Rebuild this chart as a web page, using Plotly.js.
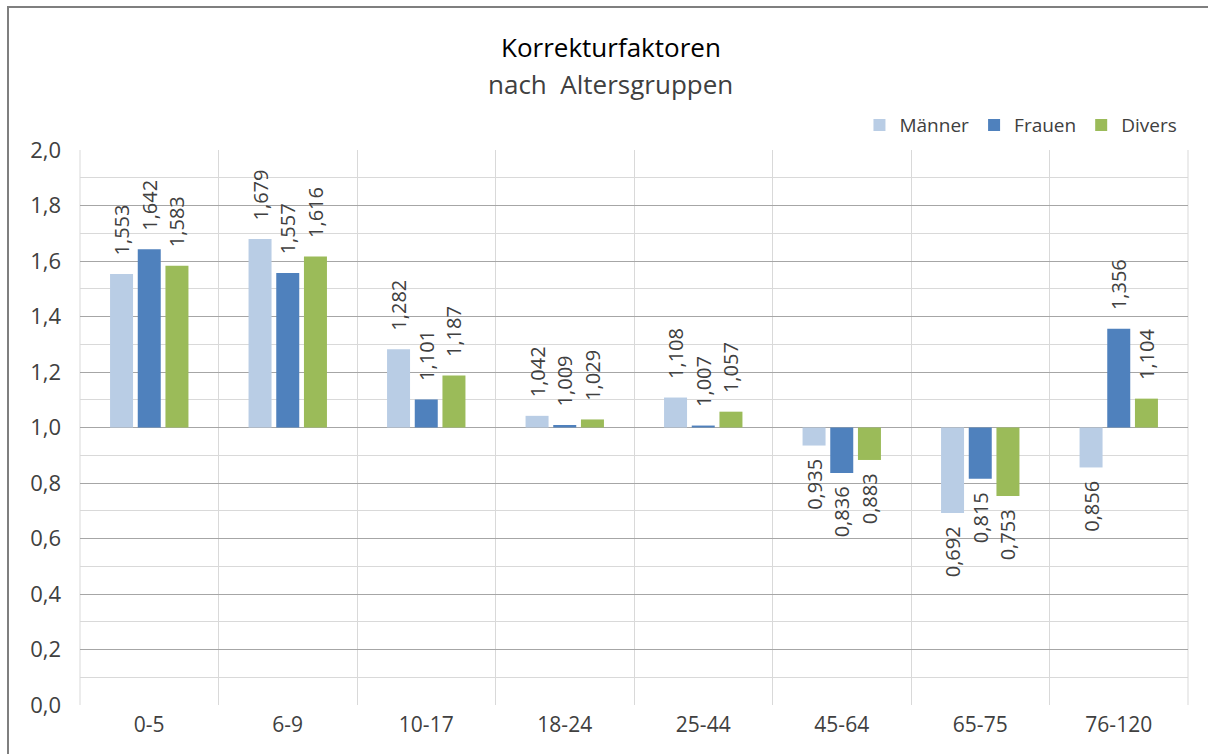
<!DOCTYPE html>
<html>
<head>
<meta charset="utf-8">
<script src="https://cdn.plot.ly/plotly-3.0.1.min.js"></script>
<style>
  html, body { margin: 0; padding: 0; background: #fff; overflow: hidden; }
  #chart { width: 1208px; height: 754px; }
  #frame { position: absolute; left: 7px; top: 6px; width: 1400px; height: 1000px;
           border-left: 2px solid #7f7f7f; border-top: 2px solid #7f7f7f; pointer-events: none; }
</style>
</head>
<body>
<div id="chart"></div>
<div id="frame"></div>
<script>
const categories = ["0-5", "6-9", "10-17", "18-24", "25-44", "45-64", "65-75", "76-120"];
const maenner = [1.553, 1.679, 1.282, 1.042, 1.108, 0.935, 0.692, 0.856];
const frauen  = [1.642, 1.557, 1.101, 1.009, 1.007, 0.836, 0.815, 1.356];
const divers  = [1.583, 1.616, 1.187, 1.029, 1.057, 0.883, 0.753, 1.104];
const seriesNames = ["Männer", "Frauen", "Divers"];
const seriesColors = ["#B9CDE5", "#4F81BD", "#9BBB59"];
const baseline = 1.0;

const FONT = "Open Sans, Noto Sans, sans-serif";
const NB = "\u00a0";
// label text; padding spaces on the side facing the bar end
const fmt = v => {
  const s = v.toFixed(3).replace(".", ",");
  return v >= baseline ? NB + NB + NB + s : s + NB + NB;
};

const traces = [maenner, frauen, divers].map((vals, i) => ({
  type: "bar",
  name: seriesNames[i],
  x: categories,
  y: vals.map(v => v - baseline),
  base: baseline,
  marker: { color: seriesColors[i] },
  text: vals.map(fmt),
  textposition: "outside",
  textangle: -90,
  constraintext: "none",
  cliponaxis: false,
  textfont: { family: FONT, size: 20, color: "#404040" },
  hoverinfo: "x+text+name"
}));

const layout = {
  width: 1208, height: 754,
  margin: { l: 80, r: 20, t: 150, b: 49 },
  paper_bgcolor: "#ffffff",
  plot_bgcolor: "#ffffff",
  separators: ",.",
  font: { family: FONT, color: "#404040" },
  barmode: "group",
  bargap: 0.4,
  bargroupgap: 0.17,
  showlegend: true,
  legend: {
    orientation: "h", x: 0.995, xanchor: "right", y: 1.045, yanchor: "middle",
    font: { family: FONT, size: 19, color: "#404040" },
    itemwidth: 30, traceorder: "normal"
  },
  xaxis: {
    type: "category",
    tickson: "boundaries",
    showgrid: true, gridcolor: "#D9D9D9", gridwidth: 1,
    ticks: "", showline: false, zeroline: false,
    tickfont: { family: FONT, size: 21, color: "#404040" },
    ticklabelstandoff: 5,
    range: [-0.5, 7.5]
  },
  yaxis: {
    range: [0, 2.0], dtick: 0.2, tick0: 0, tickformat: ".1f",
    showgrid: true, gridcolor: "#A6A6A6", gridwidth: 1,
    minor: { dtick: 0.1, showgrid: true, gridcolor: "#D9D9D9", gridwidth: 1 },
    zeroline: false, showline: false, ticks: "",
    tickfont: { family: FONT, size: 22, color: "#404040" },
    ticklabelstandoff: 18
  },
  annotations: [
    { text: "Korrekturfaktoren", xref: "paper", yref: "paper",
      x: 0.479, y: (705 - 47) / 555, xanchor: "center", yanchor: "middle",
      showarrow: false, font: { family: FONT, size: 26, color: "#000000" } },
    { text: "nach&nbsp;&nbsp;Altersgruppen", xref: "paper", yref: "paper",
      x: 0.479, y: (705 - 84) / 555, xanchor: "center", yanchor: "middle",
      showarrow: false, font: { family: FONT, size: 26, color: "#404040" } }
  ],
  shapes: [
    { type: "line", xref: "paper", yref: "paper", x0: 0, x1: 0, y0: 0, y1: 1,
      line: { color: "#D9D9D9", width: 1 }, layer: "below" },
    { type: "line", xref: "paper", yref: "paper", x0: 1, x1: 1, y0: 0, y1: 1,
      line: { color: "#D9D9D9", width: 1 }, layer: "below" }
  ]
};

Plotly.newPlot("chart", traces, layout, { displayModeBar: false, staticPlot: true });
</script>
</body>
</html>
